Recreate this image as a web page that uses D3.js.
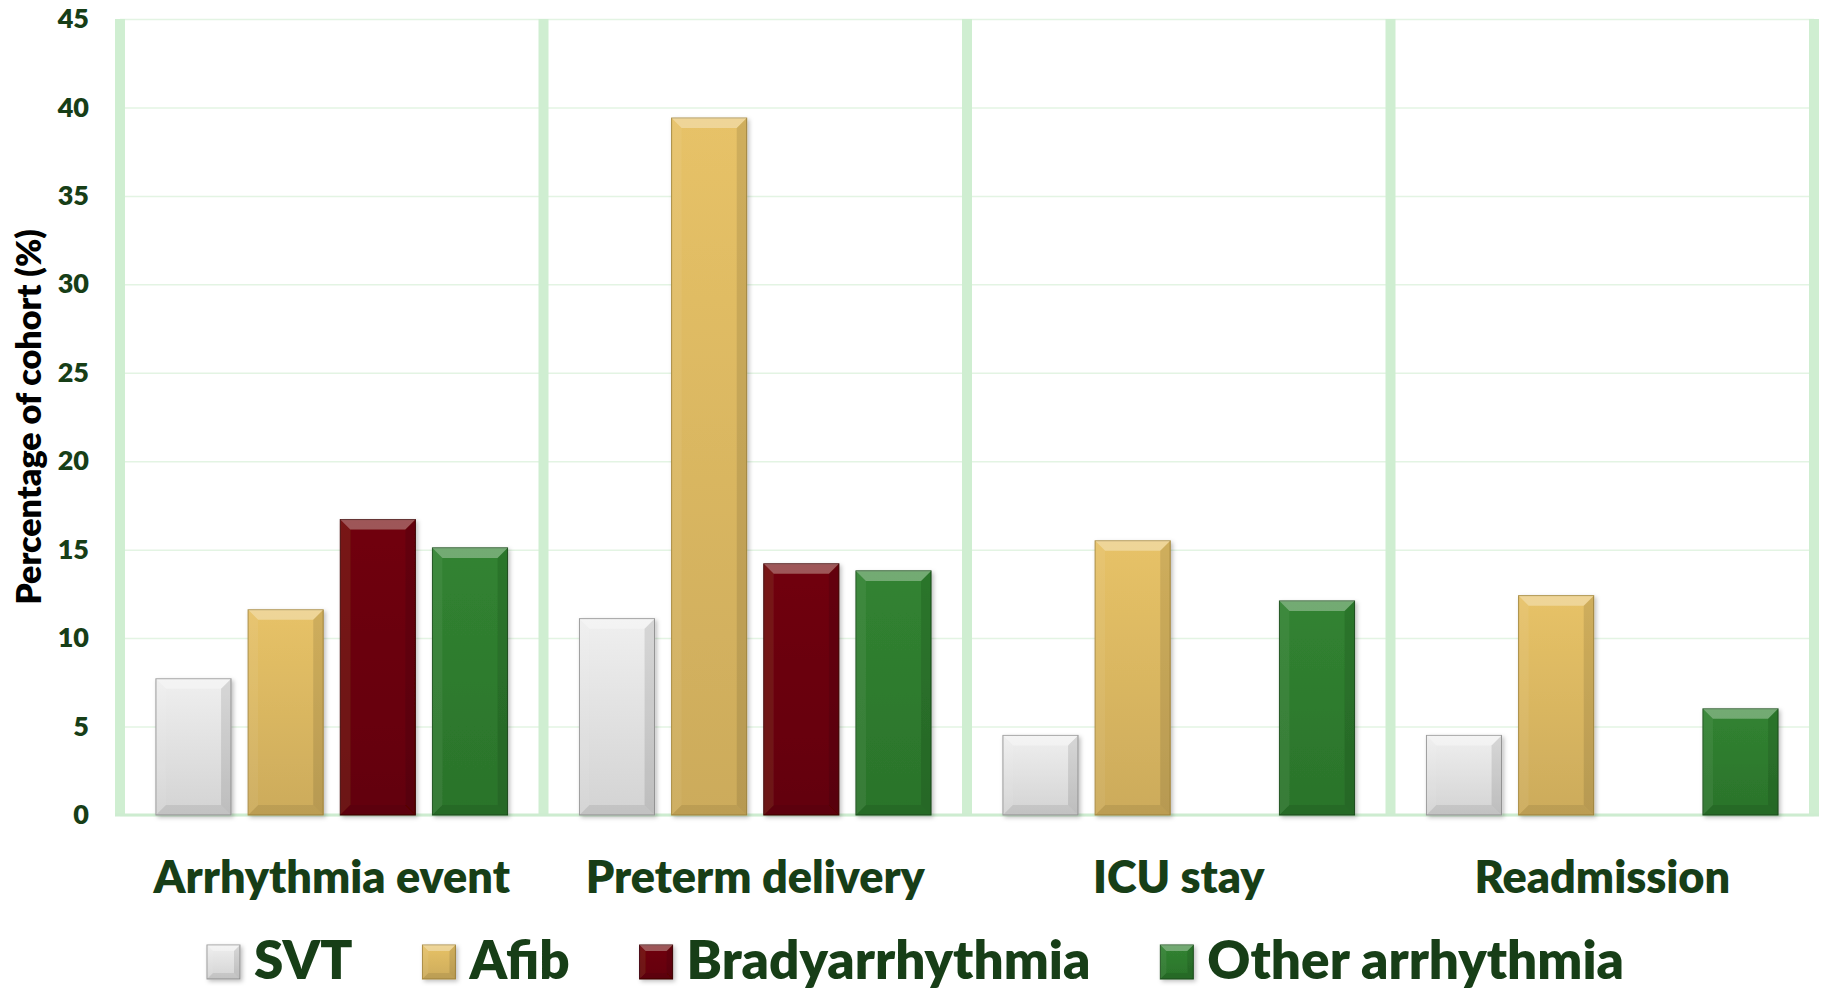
<!DOCTYPE html>
<html>
<head>
<meta charset="utf-8">
<script src="https://cdn.jsdelivr.net/npm/d3@7"></script>
<style>
  body { margin: 0; background: #ffffff; }
  svg { display: block; }
</style>
</head>
<body>
<svg width="1825" height="993"></svg>
<script>
//data
const categories = ["Arrhythmia event", "Preterm delivery", "ICU stay", "Readmission"];
const seriesNames = ["SVT", "Afib", "Bradyarrhythmia", "Other arrhythmia"];
const svtValues = [7.7, 11.1, 4.5, 4.5];
const afibValues = [11.6, 39.4, 15.5, 12.4];
const bradyValues = [16.7, 14.2, 0, 0];
const otherValues = [15.1, 13.8, 12.1, 6.0];
const yTicks = [0, 5, 10, 15, 20, 25, 30, 35, 40, 45];

const seriesValues = [svtValues, afibValues, bradyValues, otherValues];
const seriesColors = ["#e3e3e3", "#dbb862", "#6a0609", "#2e7c2e"];
const seriesStrokes = ["#9a9a9a", "#a88a3e", "#3e0204", "#1d501d"];

//const declaration
const margin = {"top": 19, "right": 11, "bottom": 178, "left": 120};
const svgWidth = 1825;
const svgHeight = 993;
const width = svgWidth - margin.left - margin.right;
const height = svgHeight - margin.top - margin.bottom;
const textGreen = "#173e17";
const fontFamily = "Lato, 'Open Sans', sans-serif";

const svg = d3.select("svg");

const defs = svg.append("defs");
defs.append("filter")
    .attr("id", "shadow")
    .attr("x", "-20%").attr("y", "-20%").attr("width", "140%").attr("height", "140%")
  .append("feDropShadow")
    .attr("dx", 2).attr("dy", 2).attr("stdDeviation", 2)
    .attr("flood-color", "#000").attr("flood-opacity", 0.25);

//vertical shading for each series, lighter at top
seriesColors.forEach((c, i) => {
  var grad = defs.append("linearGradient")
    .attr("id", "grad" + i)
    .attr("x1", 0).attr("y1", 0).attr("x2", 0).attr("y2", 1);
  grad.append("stop").attr("offset", "0%").attr("stop-color", d3.color(c).brighter(0.15));
  grad.append("stop").attr("offset", "100%").attr("stop-color", d3.color(c).darker(0.2));
});

var chart = svg.append("g")
  .attr("transform", `translate(${margin.left}, ${margin.top})`);

//scales
var yScale = d3.scaleLinear()
  .range([height, 0])
  .domain([0, 45]);

var xScale = d3.scaleBand()
  .range([0, width])
  .domain(categories)
  .padding(0);

var xInner = d3.scaleBand()
  .range([0, xScale.bandwidth()])
  .domain(seriesNames)
  .paddingInner(0.185)
  .paddingOuter(0.39);

//gridlines
chart.append("g")
  .attr("class", "grid")
  .call(d3.axisLeft(yScale).tickValues(yTicks).tickSize(-width).tickFormat(""))
  .call(g => g.select(".domain").remove())
  .call(g => g.selectAll("line").attr("stroke", "#e3f4e3").attr("stroke-width", 1.5));

//vertical separators between categories
var separators = categories.map(c => xScale(c)).concat([width]);
chart.append("g")
  .selectAll("rect")
  .data(separators)
  .enter()
  .append("rect")
    .attr("x", d => d - 5)
    .attr("y", yScale(45))
    .attr("width", 10)
    .attr("height", yScale(0) - yScale(45) + 1)
    .attr("fill", "#cfeed1");

//baseline
chart.append("line")
  .attr("x1", -5).attr("x2", width + 5)
  .attr("y1", yScale(0)).attr("y2", yScale(0))
  .attr("stroke", "#cdecd0")
  .attr("stroke-width", 3);

//y axis labels
chart.append("g")
  .attr("id", "yAxis")
  .call(d3.axisLeft(yScale).tickValues(yTicks).tickSize(0).tickPadding(31))
  .call(g => g.select(".domain").remove())
  .call(g => g.selectAll("text")
    .attr("fill", textGreen)
    .style("font-family", fontFamily)
    .style("font-size", "27px")
    .style("font-weight", "800"));

//x axis labels
chart.append("g")
  .attr("id", "xAxis")
  .attr("transform", `translate(0, ${height})`)
  .call(d3.axisBottom(xScale).tickSize(0).tickPadding(46))
  .call(g => g.select(".domain").remove())
  .call(g => g.selectAll("text")
    .attr("fill", textGreen)
    .style("font-family", fontFamily)
    .style("font-size", "45px")
    .style("font-weight", "800"));

//y title
svg.append("text")
  .attr("transform", `translate(29, ${margin.top + height / 2}) rotate(-90)`)
  .attr("text-anchor", "middle")
  .attr("dy", "0.36em")
  .attr("fill", "#000")
  .style("font-family", fontFamily)
  .style("font-size", "34px")
  .style("font-weight", "800")
  .text("Percentage of cohort (%)");

//bevelled bar, like the office "bevel" effect
function drawBevel(parent, x, y, w, h, fill, stroke, b) {
  var g = parent.append("g").attr("filter", "url(#shadow)");
  g.append("rect")
    .attr("x", x).attr("y", y).attr("width", w).attr("height", h)
    .attr("fill", fill)
    .attr("stroke", stroke).attr("stroke-width", 1);
  var bb = Math.min(b, w / 2, h / 2);
  var faces = [
    {pts: [[x, y], [x + w, y], [x + w - bb, y + bb], [x + bb, y + bb]], c: "#ffffff", o: 0.32},
    {pts: [[x, y], [x + bb, y + bb], [x + bb, y + h - bb], [x, y + h]], c: "#ffffff", o: 0.06},
    {pts: [[x + w, y], [x + w, y + h], [x + w - bb, y + h - bb], [x + w - bb, y + bb]], c: "#000000", o: 0.10},
    {pts: [[x, y + h], [x + bb, y + h - bb], [x + w - bb, y + h - bb], [x + w, y + h]], c: "#000000", o: 0.08}
  ];
  g.selectAll("polygon")
    .data(faces)
    .enter()
    .append("polygon")
      .attr("points", f => f.pts.map(p => p.join(",")).join(" "))
      .attr("fill", f => f.c)
      .attr("fill-opacity", f => f.o);
}

//drawing the bars
categories.forEach((cat, ci) => {
  seriesNames.forEach((s, si) => {
    var v = seriesValues[si][ci];
    if (v <= 0) return;
    var x = xScale(cat) + xInner(s);
    drawBevel(chart, x, yScale(v), xInner.bandwidth(), yScale(0) - yScale(v),
      `url(#grad${si})`, seriesStrokes[si], 10);
  });
});

//legend (baseline kept a little above the bottom edge so descenders stay visible)
var legend = svg.append("g");
var cursor = 0;
seriesNames.forEach((s, i) => {
  var item = legend.append("g").attr("transform", `translate(${cursor}, 0)`);
  drawBevel(item, 0, -34, 33, 34, `url(#grad${i})`, seriesStrokes[i], 6);
  var t = item.append("text")
    .attr("x", 47)
    .attr("y", 0)
    .attr("fill", textGreen)
    .style("font-family", fontFamily)
    .style("font-size", "53px")
    .style("font-weight", "800")
    .text(s);
  cursor += 47 + t.node().getComputedTextLength() + 70;
});
var legendWidth = cursor - 70;
legend.attr("transform", `translate(${(svgWidth - legendWidth) / 2 + 3}, 979)`);
</script>
</body>
</html>
